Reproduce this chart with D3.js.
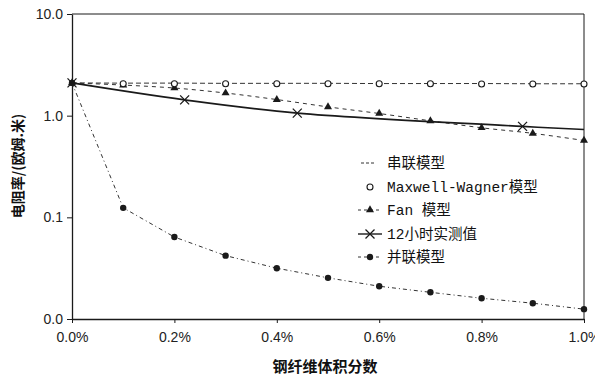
<!DOCTYPE html>
<html>
<head>
<meta charset="utf-8">
<script src="https://cdn.jsdelivr.net/npm/d3@7"></script>
<style>
  html, body { margin: 0; padding: 0; background: #fff; }
  svg { display: block; }
</style>
</head>
<body>
<svg id="chart" width="595" height="377"></svg>
<script>
// Fibre volume fraction (%) for the model curves
const fractions = [0, 0.1, 0.2, 0.3, 0.4, 0.5, 0.6, 0.7, 0.8, 0.9, 1.0];

// Resistivity (ohm·m) for each model
const seriesModel   = [2.10, 2.09, 2.09, 2.08, 2.08, 2.08, 2.07, 2.07, 2.07, 2.06, 2.06];
const mwFractions   = [0.1, 0.2, 0.3, 0.4, 0.5, 0.6, 0.7, 0.8, 0.9, 1.0];
const maxwellWagner = [2.06, 2.06, 2.06, 2.06, 2.06, 2.06, 2.06, 2.05, 2.05, 2.05];
const fanModel      = [2.10, 2.00, 1.87, 1.67, 1.44, 1.22, 1.05, 0.89, 0.76, 0.67, 0.57];
const parallelModel = [2.10, 0.124, 0.064, 0.042, 0.0316, 0.0254, 0.021, 0.0183, 0.016, 0.0143, 0.0125];

// 12-hour measurements
const measuredFractions = [0, 0.22, 0.44, 0.88, 1.0];
const measuredValues    = [2.10, 1.43, 1.06, 0.785, 0.73];

// Axis ticks
const xTickValues = [0, 0.2, 0.4, 0.6, 0.8, 1.0];
const xTickLabels = ["0.0%", "0.2%", "0.4%", "0.6%", "0.8%", "1.0%"];
const yTickValues = [0.01, 0.1, 1, 10];
const yTickLabels = ["0.0", "0.1", "1.0", "10.0"];

const legendLabels = ["串联模型", "Maxwell-Wagner模型", "Fan 模型", "12小时实测值", "并联模型"];
const xTitle = "钢纤维体积分数";
const yTitle = "电阻率/(欧姆.米)";

const svg = d3.select("#chart");
const plotLeft = 72, plotRight = 584, plotTop = 14, plotBottom = 319;
const ink = "#1a1a1a";

const x = d3.scaleLinear().domain([0, 1.0]).range([plotLeft, plotRight]);
const y = d3.scaleLog().domain([0.01, 10]).range([plotBottom, plotTop]);

// Frame: top and right edges
svg.append("line").attr("x1", plotLeft).attr("x2", plotRight).attr("y1", plotTop).attr("y2", plotTop)
  .attr("stroke", ink).attr("stroke-width", 1);
svg.append("line").attr("x1", plotRight).attr("x2", plotRight).attr("y1", plotTop).attr("y2", plotBottom)
  .attr("stroke", ink).attr("stroke-width", 1);

// Axes
const xAxis = d3.axisBottom(x).tickValues(xTickValues).tickSize(4).tickSizeOuter(0)
  .tickFormat((d, i) => xTickLabels[i]);
const yAxis = d3.axisLeft(y).tickValues(yTickValues).tickSize(5).tickSizeOuter(0)
  .tickFormat((d, i) => yTickLabels[i]);

const gx = svg.append("g").attr("transform", `translate(0,${plotBottom})`).call(xAxis);
const gy = svg.append("g").attr("transform", `translate(${plotLeft},0)`).call(yAxis);
[gx, gy].forEach(g => {
  g.select(".domain").attr("stroke", ink).attr("stroke-width", 1.3);
  g.selectAll(".tick line").attr("stroke", ink);
  g.selectAll(".tick text").attr("fill", "#222")
    .style("font-family", "'Liberation Sans', Arial, sans-serif").style("font-size", "14px");
});
gx.selectAll(".tick text").attr("dy", "1.15em");
gy.selectAll(".tick text").attr("x", -9);

// Axis titles
svg.append("text").attr("x", 325).attr("y", 372).attr("text-anchor", "middle")
  .style("font-family", "'Noto Sans CJK SC', sans-serif").style("font-weight", "bold")
  .style("font-size", "15px").attr("fill", "#111").text(xTitle);
svg.append("text").attr("transform", "translate(23,166) rotate(-90)").attr("text-anchor", "middle")
  .style("font-family", "'Noto Sans CJK SC', sans-serif").style("font-weight", "bold")
  .style("font-size", "14px").attr("fill", "#111").text(yTitle);

const smooth = d3.line().x(d => x(d[0])).y(d => y(d[1])).curve(d3.curveCatmullRom.alpha(0.5));
const straight = d3.line().x(d => x(d[0])).y(d => y(d[1]));

const zip = (xs, ys) => xs.map((v, i) => [v, ys[i]]);
const seriesPts = zip(fractions, seriesModel);
const mwPts = zip(mwFractions, maxwellWagner);
const fanPts = zip(fractions, fanModel);
const parPts = zip(fractions, parallelModel);
const measPts = zip(measuredFractions, measuredValues);

// Lines
svg.append("path").attr("d", smooth(seriesPts)).attr("fill", "none")
  .attr("stroke", "#333").attr("stroke-width", 1).attr("stroke-dasharray", "5,3");
svg.append("path").attr("d", smooth(fanPts)).attr("fill", "none")
  .attr("stroke", "#333").attr("stroke-width", 1).attr("stroke-dasharray", "4,4");
svg.append("path").attr("d", straight(parPts)).attr("fill", "none")
  .attr("stroke", "#333").attr("stroke-width", 1).attr("stroke-dasharray", "4,3,1,3");
svg.append("path").attr("d", smooth(measPts)).attr("fill", "none")
  .attr("stroke", ink).attr("stroke-width", 1.6);

// Marker drawers
const tri = d3.symbol().type(d3.symbolTriangle).size(28);
function drawTriangle(g, cx, cy) {
  g.append("path").attr("d", tri()).attr("transform", `translate(${cx},${cy})`).attr("fill", ink);
}
function drawDot(g, cx, cy) {
  g.append("circle").attr("cx", cx).attr("cy", cy).attr("r", 3.2).attr("fill", ink);
}
function drawRing(g, cx, cy) {
  g.append("circle").attr("cx", cx).attr("cy", cy).attr("r", 3).attr("fill", "#fff")
    .attr("stroke", ink).attr("stroke-width", 1.1);
}
function drawCross(g, cx, cy) {
  const s = 4.5;
  g.append("path").attr("d", `M${cx - s},${cy - s}L${cx + s},${cy + s}M${cx - s},${cy + s}L${cx + s},${cy - s}`)
    .attr("stroke", ink).attr("stroke-width", 1.3);
}

const marks = svg.append("g");
parPts.forEach(d => drawDot(marks, x(d[0]), y(d[1])));
fanPts.forEach(d => drawTriangle(marks, x(d[0]), y(d[1])));
// the last measured point only closes the line at the plot edge
measPts.slice(0, -1).forEach(d => drawCross(marks, x(d[0]), y(d[1])));
mwPts.forEach(d => drawRing(marks, x(d[0]), y(d[1])));

// Legend
const legend = svg.append("g");
const rowsY = [163, 187, 210, 234, 257];
const sx0 = 358, sx1 = 382, sxm = 370, tx = 387;
const legendFont = "'Liberation Mono', 'Noto Sans CJK SC', monospace";

legend.append("line").attr("x1", 361).attr("x2", 376).attr("y1", rowsY[0]).attr("y2", rowsY[0])
  .attr("stroke", "#333").attr("stroke-dasharray", "3,2");
drawRing(legend, sxm, rowsY[1]);
legend.append("line").attr("x1", sx0).attr("x2", sx1).attr("y1", rowsY[2]).attr("y2", rowsY[2])
  .attr("stroke", "#333").attr("stroke-dasharray", "3,3");
drawTriangle(legend, sxm, rowsY[2]);
legend.append("line").attr("x1", sx0).attr("x2", sx1).attr("y1", rowsY[3]).attr("y2", rowsY[3])
  .attr("stroke", ink).attr("stroke-width", 1.4);
drawCross(legend, sxm, rowsY[3]);
legend.append("line").attr("x1", sx0).attr("x2", sx1).attr("y1", rowsY[4]).attr("y2", rowsY[4])
  .attr("stroke", "#333").attr("stroke-dasharray", "3,3");
drawDot(legend, sxm, rowsY[4]);

legendLabels.forEach((t, i) => {
  legend.append("text").attr("x", tx).attr("y", rowsY[i]).attr("dy", "0.36em")
    .style("font-family", legendFont).style("font-size", "14.5px").attr("fill", "#111").text(t);
});
</script>
</body>
</html>
